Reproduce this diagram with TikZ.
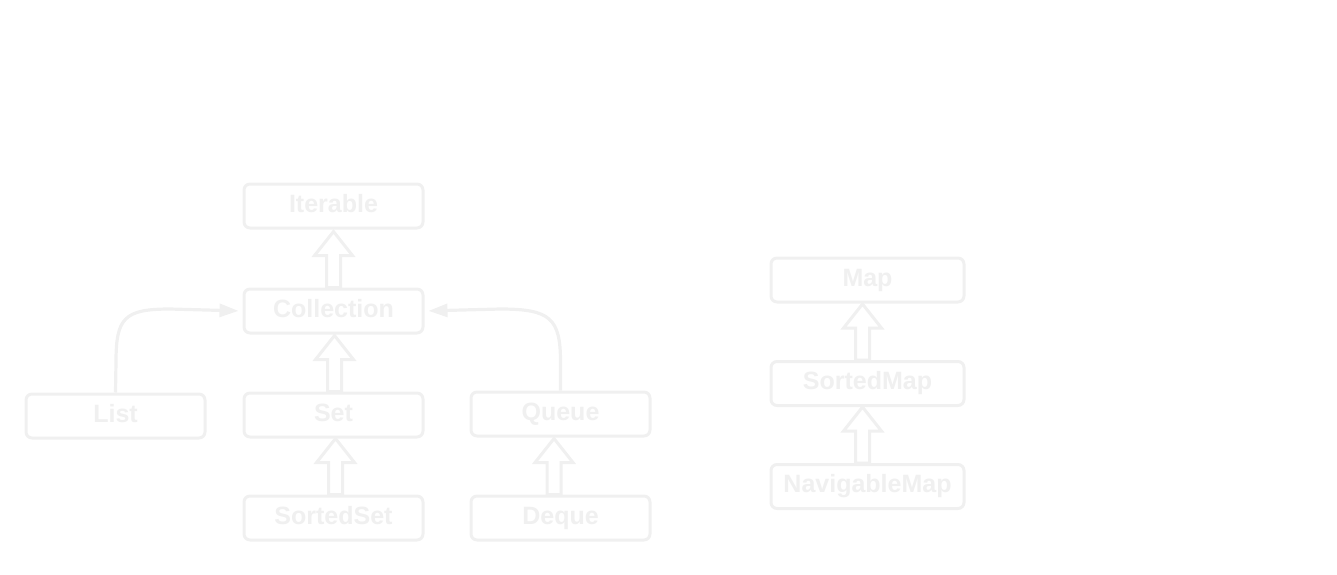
\documentclass[tikz,border=0pt]{standalone}
\usepackage{fontspec}
\setmainfont{Liberation Sans}
\usetikzlibrary{arrows.meta,calc}
\definecolor{faint}{RGB}{240,240,240}
\tikzset{
  box/.style={draw=faint, line width=3pt, rounded corners=6pt, fill=white,
    minimum width=179pt, minimum height=44pt, inner sep=0pt,
    text=faint, font=\fontsize{25}{29}\selectfont\bfseries,
    text height=17.5pt, text depth=5pt},
  widebox/.style={box, minimum width=193pt},
  conn/.style={draw=faint, line width=3.2pt, shorten >=4pt,
    -{Triangle[length=19pt,width=13pt]}},
  hol/.style={draw=faint, line width=3pt, fill=white, line join=miter}
}
\newcommand\hollowup[2]{%
  \draw[hol] ($(#1.north)+(#2,0)$) ++(-7,0) -- ++(0,-32) -- ++(-12,0)
    -- ++(19,-24) -- ++(19,24) -- ++(-12,0) -- ++(0,32) -- cycle;}
\begin{document}
\begin{tikzpicture}[x=1pt,y=-1pt]
\useasboundingbox (0,0) rectangle (1337,574);
\node[box] (it) at (333.5,206) {Iterable};
\node[box] (co) at (333.5,311) {Collection};
\node[box] (li) at (115.5,416) {List};
\node[box] (se) at (333.5,415) {Set};
\node[box] (qu) at (560.5,414) {Queue};
\node[box] (ss) at (333.5,518) {SortedSet};
\node[box] (de) at (560.5,518) {Deque};
\node[widebox] (ma) at (867.5,280) {Map};
\node[widebox] (sm) at (867.5,383.5) {SortedMap};
\node[widebox] (nm) at (867.5,486.5) {NavigableMap};
\hollowup{co}{0}
\hollowup{se}{1}
\hollowup{ss}{2}
\hollowup{de}{-6.5}
\hollowup{sm}{-5}
\hollowup{nm}{-5}
\coordinate (l1) at (116,362);
\coordinate (l2) at (116,318);
\coordinate (l3) at (124,309);
\coordinate (l4) at (170,309);
\draw[conn] (li.north) -- (l1) .. controls (l2) and (l3) .. (l4) -- (co.west);
\coordinate (q1) at (560.5,362);
\coordinate (q2) at (560.5,318);
\coordinate (q3) at (550,309);
\coordinate (q4) at (500,309);
\draw[conn] (qu.north) -- (q1) .. controls (q2) and (q3) .. (q4) -- (co.east);
\end{tikzpicture}
\end{document}
